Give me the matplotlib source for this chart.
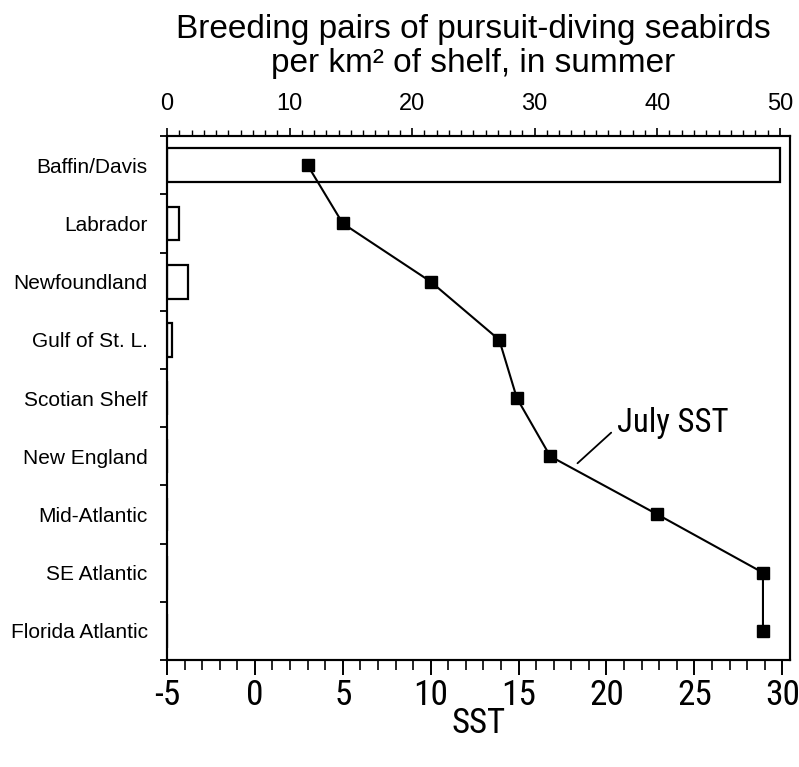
import matplotlib
matplotlib.use("Agg")
import matplotlib.pyplot as plt
import numpy as np
from matplotlib.ticker import MultipleLocator, FixedLocator
from matplotlib import font_manager
from matplotlib.font_manager import FontProperties
import os

plt.rcParams['font.family'] = ['Liberation Sans', 'DejaVu Sans']
plt.rcParams['axes.unicode_minus'] = False


def find_narrow():
    prefs = ['liberationsansnarrow-regular', 'robotocondensed-regular', 'dejavusanscondensed.ttf',
             'opensans_condensed-regular', 'opensanscondensed', 'narrow', 'condensed']
    files = [f.fname for f in font_manager.fontManager.ttflist]
    for p in prefs:
        for fn in files:
            b = os.path.basename(fn).lower().replace(' ', '')
            if p in b and 'bold' not in b and 'italic' not in b and 'oblique' not in b:
                return fn
    return None


nfile = find_narrow()


def nprop(size):
    if nfile:
        return FontProperties(fname=nfile, size=size)
    return FontProperties(family='Liberation Sans', size=size * 0.85)


regions = ["Baffin/Davis", "Labrador", "Newfoundland", "Gulf of St. L.", "Scotian Shelf",
           "New England", "Mid-Atlantic", "SE Atlantic", "Florida Atlantic"]
breeding_pairs = [50.0, 1.0, 1.75, 0.4, 0, 0, 0, 0, 0]
july_sst = [3.0, 5.0, 10.0, 13.9, 14.9, 16.8, 22.9, 28.9, 28.9]
sst_ticks = [-5, 0, 5, 10, 15, 20, 25, 30]

fig = plt.figure(figsize=(7.99, 7.67), dpi=100)
ax = fig.add_axes([0.209, 0.1395, 0.78, 0.683])
ax_top = ax.twiny()

y = np.arange(len(regions))

# bars on top axis
ax_top.barh(y, breeding_pairs, height=0.58, facecolor='white', edgecolor='black', linewidth=1.6, zorder=2)
ax_top.set_xlim(0, 50.85)

# SST line on bottom axis
ax.set_zorder(ax_top.get_zorder() + 1)
ax.patch.set_visible(False)
ax.plot(july_sst, y, color='black', linewidth=1.5, marker='s', markersize=8.5,
        markerfacecolor='black', markeredgecolor='black', zorder=3)
ax.set_xlim(-5, 30.45)
ax.set_ylim(len(regions) - 0.5, -0.5)

# annotation
ax.annotate("July SST", xy=(18.35, 5.12), xytext=(20.6, 4.42),
            fontproperties=nprop(23.5), ha='left', va='center',
            arrowprops=dict(arrowstyle='-', color='black', linewidth=1.3,
                            relpos=(0, 0.35), shrinkA=3, shrinkB=0))

# bottom axis ticks
ax.xaxis.set_minor_locator(MultipleLocator(1))
ax.tick_params(axis='x', which='major', direction='out', length=11, width=1.4, pad=3)
ax.tick_params(axis='x', which='minor', direction='out', length=7, width=1.2)
ax.set_xticks(sst_ticks)
ax.set_xticklabels([str(v) for v in sst_ticks], fontproperties=nprop(25.5))
ax.set_xlabel("SST", fontproperties=nprop(25), labelpad=-4)

# y axis ticks
ax.set_yticks(y)
ax.set_yticklabels(regions, fontsize=15)
ax.yaxis.set_minor_locator(FixedLocator(np.arange(-0.5, len(regions), 1.0)))
ax.tick_params(axis='y', which='major', length=0, pad=14)
ax.tick_params(axis='y', which='minor', direction='out', length=5, width=1.3)

# top axis ticks
ax_top.xaxis.set_major_locator(MultipleLocator(10))
ax_top.xaxis.set_minor_locator(MultipleLocator(1))
ax_top.tick_params(axis='x', which='major', direction='out', length=6, width=1.2, labelsize=17, pad=9)
ax_top.tick_params(axis='x', which='minor', direction='out', length=4, width=1.0)
ax_top.set_xlabel("Breeding pairs of pursuit-diving seabirds\nper km² of shelf, in summer",
                  fontsize=24, linespacing=1.1)
ax_top.xaxis.set_label_coords(0.492, 1.0 + 0.11)
ax_top.xaxis.label.set_va('bottom')

for a in (ax, ax_top):
    for s in a.spines.values():
        s.set_linewidth(1.5)

fig.savefig("out.png", dpi=100)
